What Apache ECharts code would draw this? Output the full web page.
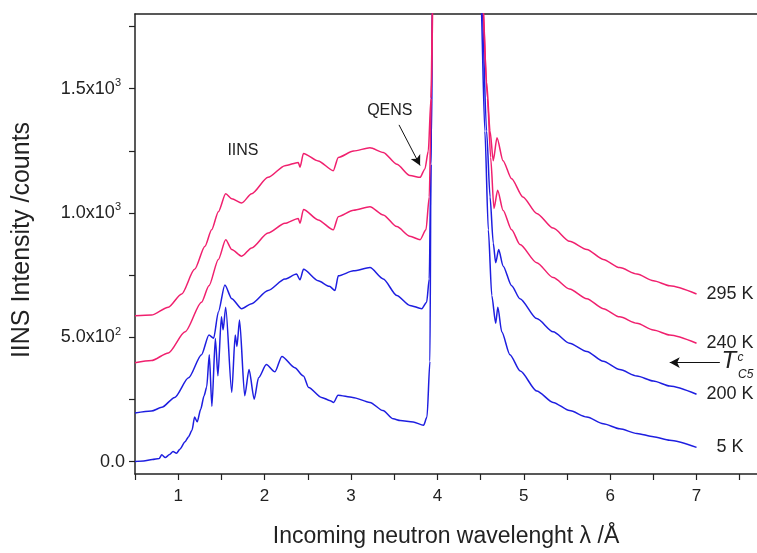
<!DOCTYPE html>
<html><head><meta charset="utf-8">
<script src="https://cdn.jsdelivr.net/npm/echarts@6/dist/echarts.min.js"></script>
<style>html,body{margin:0;padding:0;background:#fff}#c{width:757px;height:553px}</style>
</head><body><div id="c"></div>
<script>
// ---- data ----
const lam5K = [0.50,0.60,0.70,0.78,0.81,0.85,0.90,0.94,0.98,1.02,1.08,1.12,1.16,1.19,1.22,1.26,1.30,1.33,1.36,1.39,1.43,1.46,1.50,1.52,1.55,1.62,1.66,1.68,1.71,1.77,1.82,1.88,1.93,2.02,2.12,2.20,2.35,2.45,2.51,2.66,2.76,2.80,2.85,3.02,3.22,3.37,3.49,3.57,3.72,3.84,3.88,3.914,3.926,3.945,4.20,4.50,4.55,4.59,4.63,4.675,4.70,4.745,4.84,4.96,5.15,5.34,5.53,5.73,5.92,6.11,6.31,6.50,6.69,7.00];
const int5K = [0,2,8,12,27,16,28,40,33,50,80,100,126,179,160,210,265,300,430,222,495,345,582,530,621,278,509,463,569,265,370,251,337,390,361,423,377,344,298,258,245,238,267,258,238,205,172,165,159,146,179,403,1196,1900,2600,1900,1329,932,668,556,621,522,430,364,284,238,205,179,152,132,113,100,86,57];

const lam200K = [0.50,0.69,0.81,0.96,1.12,1.27,1.356,1.41,1.465,1.54,1.62,1.735,1.85,2.04,2.236,2.37,2.41,2.45,2.62,2.75,2.815,2.853,3.03,3.22,3.374,3.53,3.683,3.82,3.876,3.906,3.926,3.945,4.20,4.51,4.57,4.61,4.647,4.675,4.71,4.76,4.86,4.956,5.15,5.34,5.53,5.73,5.92,6.11,6.31,6.50,6.69,7.00];
const int200K = [195,203,218,258,337,430,509,496,602,710,655,615,635,688,734,754,731,773,727,705,688,747,767,780,734,668,628,615,641,734,1196,1900,2600,1900,1329,1064,879,800,853,787,707,655,575,522,476,443,403,370,344,324,304,271];

const lam240K = [0.50,0.69,0.886,1.08,1.27,1.356,1.465,1.55,1.62,1.735,1.85,2.04,2.236,2.39,2.41,2.45,2.62,2.795,2.853,3.03,3.22,3.374,3.53,3.683,3.80,3.868,3.906,3.93,3.95,4.20,4.515,4.58,4.617,4.655,4.698,4.76,4.86,4.956,5.15,5.34,5.53,5.73,5.92,6.11,6.31,6.50,6.69,7.00];
const int240K = [397,406,437,522,641,707,813,892,853,826,859,919,958,978,958,1014,972,932,985,1011,1025,992,945,906,892,932,1064,1461,1900,2600,1900,1461,1223,1018,1091,1011,932,873,800,740,694,655,615,582,556,529,509,476];

const lam295K = [0.50,0.69,0.886,1.04,1.19,1.31,1.387,1.465,1.55,1.62,1.735,1.85,2.04,2.236,2.39,2.41,2.45,2.62,2.795,2.853,3.03,3.22,3.374,3.53,3.683,3.80,3.856,3.895,3.926,3.95,4.20,4.52,4.57,4.61,4.647,4.69,4.76,4.86,4.99,5.15,5.34,5.53,5.73,5.92,6.11,6.31,6.50,6.69,7.00];
const int295K = [586,589,621,674,773,866,932,1005,1077,1057,1040,1077,1143,1190,1203,1184,1239,1209,1170,1223,1249,1262,1243,1196,1150,1143,1177,1249,1461,2000,2600,1900,1527,1329,1210,1302,1210,1137,1064,998,939,886,853,813,780,754,727,707,674];

const seriesNames = ['5 K','200 K','240 K','295 K'];
const xTickValues = [0.5,1,1.5,2,2.5,3,3.5,4,4.5,5,5.5,6,6.5,7,7.5];
const xLabelValues = [1,2,3,4,5,6,7];
const yTickValues = [0,250,500,750,1000,1250,1500,1750];
const yLabelValues = [0,500,1000,1500];
const yLabelMantissa = ['0.0','5.0x10','1.0x10','1.5x10'];
const yLabelExponent = ['','2','3','3'];

// ---- chart ----
const FONT = "'Liberation Sans', Arial, Helvetica, sans-serif";
const BLUE = '#1e1ee0';
const PINK = '#f0206e';
const INK = '#222';

function pairs(xs, ys){ return xs.map((x,i)=>[x, ys[i]]); }

const chart = echarts.init(document.getElementById('c'), null, {renderer:'canvas'});

function lineSeries(name, xs, ys, color, dist, extra){
  return Object.assign({
    name, type:'line', data: pairs(xs, ys), showSymbol:false, symbol:'none',
    smooth:0.25, smoothMonotone:'x', clip:true,
    lineStyle:{color, width:1.5}, itemStyle:{color},
    endLabel:{show:true, formatter:name, distance:dist, color:INK, fontSize:18, fontFamily:FONT},
    animation:false, z:2
  }, extra || {});
}

const txt = (coord, text, size, extraLabel) => ({
  coord, symbol:'circle', symbolSize:0,
  label: Object.assign({show:true, position:'inside', formatter:text, color:INK, fontSize:size, fontFamily:FONT}, extraLabel||{})
});

const option = {
  backgroundColor:'#fff',
  animation:false,
  grid:{left:135, top:14, right:0, bottom:72, containLabel:false},
  xAxis:[{
    type:'value', min:0.5, max:7.7, interval:0.5,
    name:'Incoming neutron wavelenght \u03bb /\u00c5', nameLocation:'middle', nameGap:51,
    nameTextStyle:{fontSize:23, color:INK, fontFamily:FONT},
    axisLine:{show:true, onZero:false, lineStyle:{color:INK, width:1.5}},
    axisTick:{show:true, length:6, customValues:xTickValues, lineStyle:{color:INK, width:1.2}},
    axisLabel:{show:true, customValues:xLabelValues, margin:14, fontSize:17, color:INK, fontFamily:FONT,
      formatter:v => (Math.abs(v-Math.round(v))<1e-6 ? String(Math.round(v)) : '')},
    splitLine:{show:false}
  },{
    type:'value', position:'top', min:0.5, max:7.7,
    axisLine:{show:true, onZero:false, lineStyle:{color:INK, width:1.5}},
    axisTick:{show:false}, axisLabel:{show:false}, splitLine:{show:false}
  }],
  yAxis:{
    type:'value', min:-50, max:1800,
    name:'IINS Intensity /counts', nameLocation:'middle', nameGap:100, nameRotate:90,
    nameTextStyle:{fontSize:25, color:INK, fontFamily:FONT, padding:[0,0,0,8]},
    axisLine:{show:true, onZero:false, lineStyle:{color:INK, width:1.5}},
    axisTick:{show:true, length:6, customValues:yTickValues, lineStyle:{color:INK, width:1.2}},
    axisLabel:{show:true, customValues:yLabelValues, margin:10, color:INK, fontFamily:FONT,
      formatter:v => {
        const i = yLabelValues.indexOf(v);
        if (i < 0) return '';
        return yLabelExponent[i] ? '{b|'+yLabelMantissa[i]+'}{s|'+yLabelExponent[i]+'}' : '{b|'+yLabelMantissa[i]+'}';
      },
      rich:{
        b:{fontSize:18, lineHeight:22, color:INK, fontFamily:FONT},
        s:{fontSize:11, lineHeight:11, verticalAlign:'top', padding:[0,4,0,0], color:INK, fontFamily:FONT}
      }
    },
    splitLine:{show:false}
  },
  series:[
    lineSeries(seriesNames[0], lam5K, int5K, BLUE, 20),
    lineSeries(seriesNames[1], lam200K, int200K, BLUE, 10),
    lineSeries(seriesNames[2], lam240K, int240K, PINK, 10),
    lineSeries(seriesNames[3], lam295K, int295K, PINK, 10, {
      markPoint:{
        silent:true, animation:false,
        data:[
          txt([1.75,1250], 'IINS', 16),
          txt([3.45,1410], 'QENS', 16),
          txt([7.375,402], 'T', 24, {fontStyle:'italic'}),
          txt([7.51,418], 'c', 12, {fontStyle:'italic'}),
          txt([7.57,350], 'C5', 12, {fontStyle:'italic'})
        ]
      },
      markLine:{
        silent:true, animation:false, symbol:['none','arrow'], symbolSize:[8,10],
        lineStyle:{color:'#111', width:1, type:'solid'}, label:{show:false},
        data:[
          [{coord:[3.556,1354]},{coord:[3.80,1191]}],
          [{coord:[7.27,398]},{coord:[6.69,398]}]
        ]
      }
    })
  ]
};
chart.setOption(option);
</script></body></html>
